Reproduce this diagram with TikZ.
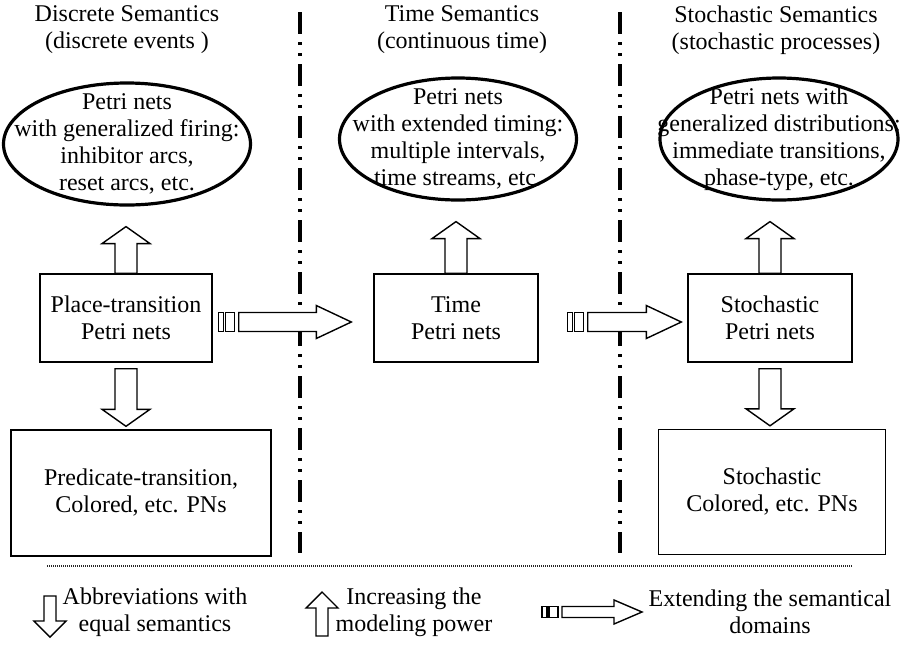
\documentclass[tikz,border=0pt]{standalone}
\usepackage{fontspec}
\setmainfont{Liberation Serif}
\usepackage{tikz}
\usetikzlibrary{shapes.geometric, calc, positioning}

% hollow block arrow: from, tip, shaft half width, head half width, head length
\newcommand{\hollowarrow}[5]{%
  \coordinate (hb) at ($(#2)!#5!(#1)$);
  \draw[arrowline] ($(#1)!#3!90:(#2)$) -- ($(hb)!#3!90:(#2)$) -- ($(hb)!#4!90:(#2)$) -- (#2)
    -- ($(hb)!#4!-90:(#2)$) -- ($(hb)!#3!-90:(#2)$) -- ($(#1)!#3!-90:(#2)$) -- cycle;
}
% the same with two stripes behind the tail
\newcommand{\stripedarrow}[5]{%
  \coordinate (sa) at ($(#1)!-10pt!(#2)$);
  \coordinate (sb) at ($(#1)!-7.5pt!(#2)$);
  \coordinate (sc) at ($(#1)!-6.5pt!(#2)$);
  \coordinate (sd) at ($(#1)!-2pt!(#2)$);
  \draw[arrowline] ($(sa)!#3!90:(#2)$) -- ($(sb)!#3!90:(#2)$) -- ($(sb)!#3!-90:(#2)$) -- ($(sa)!#3!-90:(#2)$) -- cycle;
  \draw[arrowline] ($(sc)!#3!90:(#2)$) -- ($(sd)!#3!90:(#2)$) -- ($(sd)!#3!-90:(#2)$) -- ($(sc)!#3!-90:(#2)$) -- cycle;
  \hollowarrow{#1}{#2}{#3}{#4}{#5}%
}

\begin{document}
\begin{tikzpicture}[x=0.5pt, y=-0.5pt,
  font=\fontsize{12}{13.5}\selectfont,
  every node/.style={align=center},
  pnbox/.style={draw, line width=0.7pt, inner sep=0pt},
  bubble/.style={draw, ellipse, line width=1.6pt, inner sep=0pt},
  arrowline/.style={line width=0.7pt, line join=miter, fill=white},
  divider/.style={line width=1.8pt, dash pattern=on 11pt off 4pt on 1.5pt off 4pt on 1.5pt off 4pt},
  sepline/.style={line width=1.1pt, draw=black!85, dash pattern=on 0.5pt off 0.5pt}]
\useasboundingbox (0,0) rectangle (900,644);

% Headers
\node (hd-discrete) at (127,30) {Discrete Semantics\\(discrete events )};
\node (hd-time) at (462,30) {Time Semantics\\(continuous time)};
\node (hd-stoch) at (776,30) {Stochastic Semantics\\(stochastic processes)};

% Dividers
\coordinate (div1-top) at (300,12);
\coordinate (div1-bot) at (300,553);
\coordinate (div2-top) at (620,12);
\coordinate (div2-bot) at (620,553);
\draw[divider] (div1-top) -- (div1-bot);
\draw[divider] (div2-top) -- (div2-bot);

% Discrete
\node[bubble, minimum width=123.5pt, minimum height=61pt] (pn-firing) at (127,144) {};
\node (pn-firing-txt) at (pn-firing) {Petri nets\\with generalized firing:\\inhibitor arcs,\\reset arcs, etc.};
\node[pnbox, minimum width=86pt, minimum height=44pt] (pt-pn) at (126,318) {Place-transition\\Petri nets};
\node[pnbox, minimum width=130pt, minimum height=63pt] (pr-pn) at (141,493) {Predicate-transition,\\Colored, etc. PNs};

% Time
\node[bubble, minimum width=118.5pt, minimum height=61pt] (pn-timing) at (458,139) {};
\node (pn-timing-txt) at (pn-timing) {Petri nets\\with extended timing:\\multiple intervals,\\time streams, etc.};
\node[pnbox, minimum width=82pt, minimum height=44pt] (time-pn) at (456,318) {Time\\Petri nets};

% Stochastic
\node[bubble, minimum width=119pt, minimum height=61pt] (pn-distr) at (779,139) {};
\node (pn-distr-txt) at (pn-distr) {Petri nets with\\generalized distributions:\\immediate transitions,\\phase-type, etc.};
\node[pnbox, minimum width=82pt, minimum height=44pt] (stoch-pn) at (770,318) {Stochastic\\Petri nets};
\node[pnbox, minimum width=113.5pt, minimum height=62.5pt] (scol-pn) at (772,492) {Stochastic\\Colored, etc. PNs};

% Increasing the modeling power
\coordinate (up1-tip) at ($(pt-pn.north |- pn-firing.south)+(0,20)$);
\coordinate (up2-tip) at ($(time-pn.north |- pn-timing.south)+(0,20)$);
\coordinate (up3-tip) at ($(stoch-pn.north |- pn-distr.south)+(0,20)$);
\hollowarrow{pt-pn.north}{up1-tip}{5.5pt}{12pt}{8.5pt}
\hollowarrow{time-pn.north}{up2-tip}{5.5pt}{12pt}{8.5pt}
\hollowarrow{stoch-pn.north}{up3-tip}{5.5pt}{12pt}{8.5pt}

% Abbreviations
\coordinate (dn1-top) at ($(pt-pn.south)+(0,6)$);
\coordinate (dn1-tip) at ($(pt-pn.south |- pr-pn.north)+(0,-3)$);
\coordinate (dn3-top) at ($(stoch-pn.south)+(0,6)$);
\coordinate (dn3-tip) at ($(stoch-pn.south |- scol-pn.north)+(0,-3)$);
\hollowarrow{dn1-top}{dn1-tip}{5.5pt}{12pt}{8.5pt}
\hollowarrow{dn3-top}{dn3-tip}{5.5pt}{12pt}{8.5pt}

% Extending the domains
\coordinate (ext1-start) at ($(pt-pn.east)+(26,4)$);
\coordinate (ext1-tip) at ($(time-pn.west)+(-22,4)$);
\coordinate (ext2-start) at ($(time-pn.east)+(49,4)$);
\coordinate (ext2-tip) at ($(stoch-pn.west)+(-6,4)$);
\stripedarrow{ext1-start}{ext1-tip}{4.75pt}{8.25pt}{17.5pt}
\stripedarrow{ext2-start}{ext2-tip}{4.75pt}{8.25pt}{17.5pt}

% Legend
\coordinate (sep-l) at (47,566);
\coordinate (sep-r) at (853,566);
\draw[sepline] (sep-l) -- (sep-r);

\coordinate (lg-dn-top) at (50,596);
\coordinate (lg-dn-tip) at (50,637);
\hollowarrow{lg-dn-top}{lg-dn-tip}{3pt}{8pt}{8pt}
\node (lg-dn-txt) at (155,612) {Abbreviations with\\equal semantics};

\coordinate (lg-up-bot) at (322,636);
\coordinate (lg-up-tip) at (322,592);
\hollowarrow{lg-up-bot}{lg-up-tip}{3pt}{8pt}{8pt}
\node (lg-up-txt) at (414,612) {Increasing the\\modeling power};

\coordinate (lg-ext-start) at (562,612);
\coordinate (lg-ext-tip) at (642,612);
\stripedarrow{lg-ext-start}{lg-ext-tip}{2.75pt}{6pt}{14pt}
\node (lg-ext-txt) at (770,612) {Extending the semantical\\domains};
\end{tikzpicture}
\end{document}
